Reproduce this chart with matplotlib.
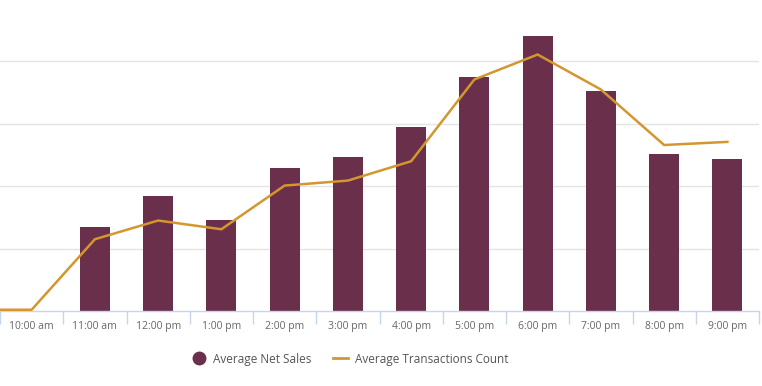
import numpy as np
import matplotlib.pyplot as plt
from matplotlib.lines import Line2D

hours = ['10:00 am', '11:00 am', '12:00 pm', '1:00 pm', '2:00 pm', '3:00 pm',
         '4:00 pm', '5:00 pm', '6:00 pm', '7:00 pm', '8:00 pm', '9:00 pm']
net_sales = [0, 269, 369, 292, 458, 495, 590, 750, 881, 705, 503, 487]
transactions = [0.2, 11.5, 14.5, 13.1, 20.1, 20.9, 24.0, 37.1, 41.1, 35.5, 26.6, 27.1]
sales_grid = [200, 400, 600, 800]

bar_color = '#6a2f4a'
line_color = '#d4962f'
axis_color = '#c3d6ea'

plt.rcParams['font.family'] = ['Open Sans', 'DejaVu Sans']

fig = plt.figure(figsize=(7.62, 3.86), dpi=100)
ax = fig.add_axes([0, 75 / 386, 759 / 762, 311 / 386])

x = np.arange(len(hours))
ax.bar(x, net_sales, width=0.475, color=bar_color, zorder=2)
ax.set_xlim(-0.5, len(hours) - 0.5)
ax.set_ylim(0, 996.8)
ax.set_yticks(sales_grid)
ax.yaxis.grid(True, color='#e3e3e3', linewidth=1, zorder=0)
ax.tick_params(axis='y', left=False, length=0, labelleft=False)
ax.set_axisbelow(True)

# secondary axis for transaction count, same vertical scaling
ax2 = ax.twinx()
ax2.set_ylim(0, 49.84)
lx = np.concatenate([[x[0] - 0.5], x])
ly = np.concatenate([[transactions[0]], transactions])
ax2.plot(lx, ly, color=line_color, linewidth=1.8, zorder=3, solid_joinstyle='miter')
ax2.axis('off')

ax.set_xticks(np.arange(len(hours) + 1) - 0.5)
ax.set_xticklabels([])
ax.set_xticks(x, minor=True)
ax.set_xticklabels(hours, minor=True)
ax.tick_params(axis='x', which='major', length=9, width=1, color=axis_color, direction='out')
ax.tick_params(axis='x', which='minor', length=0, pad=7, labelsize=7.5, labelcolor='#666666')

for s in ['top', 'right', 'left']:
    ax.spines[s].set_visible(False)
ax.spines['bottom'].set_color(axis_color)
ax.spines['bottom'].set_linewidth(1)

handles = [
    Line2D([], [], marker='o', linestyle='none', markersize=9, color=bar_color),
    Line2D([], [], color=line_color, linewidth=2),
]
fig.legend(handles, ['Average Net Sales', 'Average Transactions Count'],
           loc='center', bbox_to_anchor=(350 / 762, 1 - 359 / 386), ncol=2,
           frameon=False, fontsize=8.5, labelcolor='#555555',
           handlelength=1.3, handletextpad=0.6, columnspacing=1.8)

fig.savefig('out.png', dpi=100)
